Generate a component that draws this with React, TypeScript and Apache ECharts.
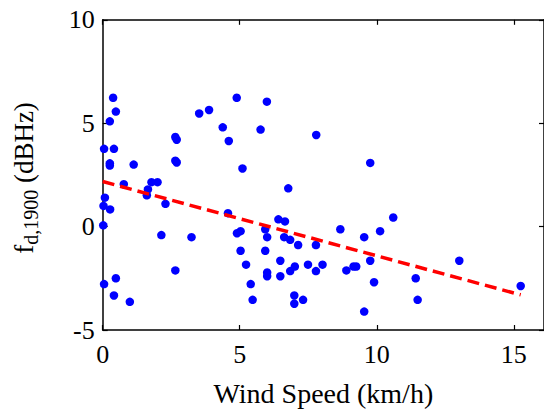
import React, { useEffect, useRef } from "react";
import * as echarts from "echarts";

const windSpeed = [
  0.38, 0.48, 0.26, 0.05, 0.41, 0.26, 0.26, 1.13, 3.52, 3.88, 4.89, 4.38, 4.6, 5.1, 2.65, 2.7, 2.65, 2.7, 0.77, 1.78,
  2.0, 1.65, 1.61, 2.29, 0.08, 0.03, 0.27, 4.57, 0.02, 2.14, 3.24, 4.9, 5.03, 5.03, 5.23, 2.65, 0.05, 0.48, 0.41, 0.99,
  5.4, 5.47, 6.41, 6.65, 5.93, 6.0, 6.62, 6.84, 7.13, 5.93, 6.48, 6.0, 6.0, 6.48, 6.84, 7.01, 7.49, 7.78, 8.02, 7.78,
  6.99, 7.31, 6.99, 8.67, 8.89, 9.15, 9.25, 9.54, 10.12, 9.76, 9.9, 9.54, 5.99, 5.76, 7.79, 9.76, 6.77, 10.6, 13.01,
  11.42, 11.49, 15.25,
];
const fd1900 = [
  6.23, 5.56, 5.09, 3.76, 3.76, 3.06, 2.95, 3.0, 5.47, 5.64, 6.23, 4.8, 4.14, 2.81, 4.33, 4.2, 3.19, 3.1, 2.05, 2.15,
  2.15, 1.8, 1.51, 1.1, 1.4, 1.0, 0.83, 0.65, 0.06, -0.41, -0.51, -0.32, -0.22, -1.17, -1.84, -2.12, -2.78, -2.5, -3.33,
  -3.64, -2.78, -3.54, 0.35, 0.25, -0.13, -0.51, -0.51, -0.64, -0.89, -1.17, -1.65, -2.22, -2.4, -2.4, -2.15, -1.93,
  -1.84, -2.15, -1.84, -0.89, -3.33, -3.54, -3.73, -0.13, -2.12, -1.93, -1.93, -0.51, -0.22, -1.65, -2.69, -4.11, 6.04,
  4.69, 4.43, 3.08, 1.85, 0.44, -1.65, -2.5, -3.54, -2.87,
];
const fitX = [0, 15.25];
const fitY = [2.18, -3.3];
const xTicks = [0, 5, 10, 15];
const yTicks = [-5, 0, 5, 10];

const FONT = "Liberation Serif";

export default function App() {
  const ref = useRef<HTMLDivElement>(null);
  useEffect(() => {
    if (!ref.current) return;
    const chart = echarts.init(ref.current, null, { renderer: "svg" });
    const axisLine = { show: true, onZero: false, lineStyle: { color: "#000", width: 1.5 } };
    const tick = { show: true, inside: true, length: 5, lineStyle: { color: "#000", width: 1.2 } };
    chart.setOption({
      animation: false,
      backgroundColor: "#fff",
      grid: { left: 102.7, right: -4, top: 19.8, bottom: 76, containLabel: false },
      xAxis: [
        {
          type: "value",
          position: "bottom",
          min: 0,
          max: 16.1,
          axisLine,
          axisTick: { ...tick, customValues: xTicks },
          axisLabel: {
            customValues: xTicks,
            color: "#000",
            fontFamily: FONT,
            fontSize: 26,
            margin: 11,
          },
          splitLine: { show: false },
          name: "Wind Speed (km/h)",
          nameLocation: "middle",
          nameGap: 49,
          nameTextStyle: { color: "#000", fontFamily: FONT, fontSize: 28 },
        },
        {
          type: "value",
          position: "top",
          min: 0,
          max: 16.1,
          axisLine,
          axisTick: { ...tick, customValues: xTicks },
          axisLabel: { show: false },
          splitLine: { show: false },
        },
      ],
      yAxis: [
        {
          type: "value",
          position: "left",
          min: -5,
          max: 10,
          axisLine,
          axisTick: { ...tick, customValues: yTicks },
          axisLabel: {
            customValues: yTicks,
            color: "#000",
            fontFamily: FONT,
            fontSize: 26,
            margin: 8,
          },
          splitLine: { show: false },
        },
        {
          type: "value",
          position: "right",
          min: -5,
          max: 10,
          axisLine,
          axisTick: { ...tick, customValues: yTicks },
          axisLabel: { show: false },
          splitLine: { show: false },
        },
      ],
      graphic: [
        {
          type: "text",
          x: 24,
          y: 178,
          rotation: Math.PI / 2,
          style: {
            text: "{m|f}{s|d,1900}{m| (dBHz)}",
            align: "center",
            verticalAlign: "middle",
            fill: "#000",
            rich: {
              m: { fontFamily: FONT, fontSize: 27, fill: "#000", lineHeight: 30 },
              s: { fontFamily: FONT, fontSize: 20, fill: "#000", lineHeight: 20, padding: [14, 0, 0, 0] },
            },
          },
        },
      ],
      series: [
        {
          type: "scatter",
          data: windSpeed.map((x, i) => [x, fd1900[i]]),
          symbol: "circle",
          symbolSize: 8.5,
          itemStyle: { color: "#0000ff", opacity: 1 },
          xAxisIndex: 0,
          yAxisIndex: 0,
        },
        {
          type: "line",
          data: fitX.map((x, i) => [x, fitY[i]]),
          showSymbol: false,
          symbol: "none",
          lineStyle: { color: "#ff0000", width: 3.5, type: [12, 6] },
          xAxisIndex: 0,
          yAxisIndex: 0,
          z: 3,
        },
      ],
    });
    return () => chart.dispose();
  }, []);
  return (
    <div
      ref={ref}
      style={{ position: "absolute", left: 0, top: 0, width: 544, height: 412, background: "#fff" }}
    />
  );
}
